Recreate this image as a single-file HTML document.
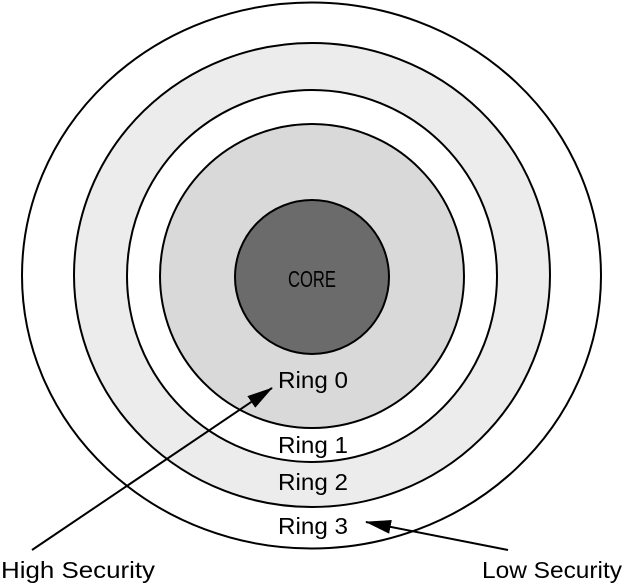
<!DOCTYPE html>
<html><head><meta charset="utf-8"><style>
html,body{margin:0;padding:0;background:#fff;}
svg{display:block;}
text{font-family:"Liberation Sans Narrow","Liberation Sans",sans-serif;font-size:23px;fill:#000;}
</style></head><body>
<svg width="624" height="584" viewBox="0 0 624 584" xmlns="http://www.w3.org/2000/svg">
<defs>
<marker id="ah2" markerWidth="26" markerHeight="14" refX="25" refY="7" orient="auto" markerUnits="userSpaceOnUse">
<path d="M0,0 L26,7 L0,14 Z" fill="#000"/>
</marker>
</defs>
<ellipse cx="311.5" cy="275.5" rx="289.5" ry="273" fill="#fff" stroke="#000" stroke-width="2"/>
<ellipse cx="312" cy="275" rx="238" ry="232" fill="#ececec" stroke="#000" stroke-width="2"/>
<ellipse cx="312" cy="276" rx="185" ry="186" fill="#fff" stroke="#000" stroke-width="2"/>
<ellipse cx="312" cy="276" rx="152" ry="152" fill="#d9d9d9" stroke="#000" stroke-width="2"/>
<ellipse cx="312" cy="277" rx="77" ry="77" fill="#6b6b6b" stroke="#000" stroke-width="2"/>
<text x="288" y="287" textLength="48" lengthAdjust="spacingAndGlyphs">CORE</text>
<text x="278" y="388" textLength="70" lengthAdjust="spacingAndGlyphs">Ring 0</text>
<text x="278" y="453" textLength="70" lengthAdjust="spacingAndGlyphs">Ring 1</text>
<text x="278" y="490" textLength="70" lengthAdjust="spacingAndGlyphs">Ring 2</text>
<text x="278" y="534" textLength="70" lengthAdjust="spacingAndGlyphs">Ring 3</text>
<line x1="32" y1="550" x2="272" y2="388" stroke="#000" stroke-width="2" marker-end="url(#ah2)"/>
<line x1="508" y1="550" x2="366" y2="522" stroke="#000" stroke-width="2" marker-end="url(#ah2)"/>
<text x="1" y="578" textLength="154" lengthAdjust="spacingAndGlyphs">High Security</text>
<text x="482" y="578" textLength="140" lengthAdjust="spacingAndGlyphs">Low Security</text>
</svg>
</body></html>
